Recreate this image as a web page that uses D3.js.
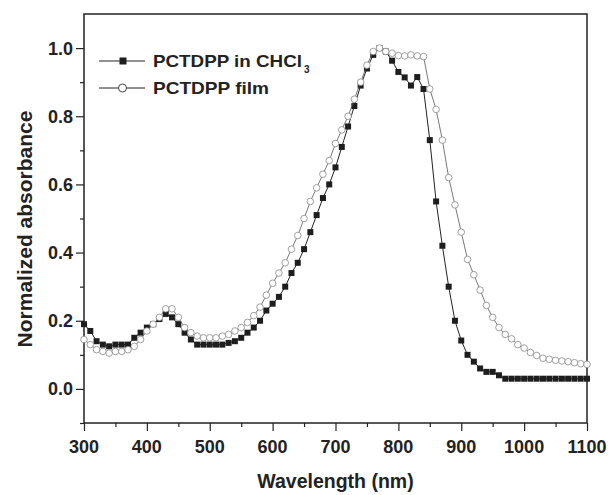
<!DOCTYPE html>
<html lang="en">
<head>
    <meta charset="UTF-8">
    <title>Normalized absorbance of PCTDPP</title>
    <script src="https://d3js.org/d3.v7.min.js"></script>
    <style>
        body { margin: 0; background: #fff; }
        svg { font-family: "Liberation Sans", Arial, sans-serif; }
        .tick-label { font-size: 18px; font-weight: bold; fill: #222; }
        .axis-title { font-weight: bold; fill: #222; }
        .legend { font-size: 17px; font-weight: bold; fill: #222; }
    </style>
</head>
<body>
    <svg width="611" height="495"></svg>

    <script>
        // Wavelength (nm) of each sample
        const wavelengths = [
            300, 310, 320, 330, 340, 350, 360, 370, 380, 390,
            400, 410, 420, 430, 440, 450, 460, 470, 480, 490,
            500, 510, 520, 530, 540, 550, 560, 570, 580, 590,
            600, 610, 620, 630, 640, 650, 660, 670, 680, 690,
            700, 710, 720, 730, 740, 750, 760, 770, 780, 790,
            800, 810, 820, 830, 840, 850, 860, 870, 880, 890,
            900, 910, 920, 930, 940, 950, 960, 970, 980, 990,
            1000, 1010, 1020, 1030, 1040, 1050, 1060, 1070, 1080, 1090,
            1100
        ];

        // PCTDPP in CHCl3 (filled squares)
        const solution = [
            0.19, 0.17, 0.14, 0.13, 0.125, 0.13, 0.13, 0.13, 0.15, 0.165,
            0.18, 0.19, 0.205, 0.22, 0.21, 0.19, 0.165, 0.145, 0.13, 0.13,
            0.13, 0.13, 0.13, 0.135, 0.14, 0.15, 0.165, 0.18, 0.20, 0.23,
            0.25, 0.27, 0.30, 0.34, 0.37, 0.41, 0.46, 0.51, 0.56, 0.60,
            0.65, 0.71, 0.77, 0.83, 0.89, 0.94, 0.98, 1.0, 0.99, 0.963,
            0.93, 0.914, 0.89, 0.915, 0.88, 0.73, 0.55, 0.42, 0.30, 0.20,
            0.142, 0.10, 0.08, 0.06, 0.05, 0.05, 0.04, 0.03, 0.03, 0.03,
            0.03, 0.03, 0.03, 0.03, 0.03, 0.03, 0.03, 0.03, 0.03, 0.03,
            0.03
        ];

        // PCTDPP film (open circles)
        const film = [
            0.145, 0.13, 0.115, 0.11, 0.105, 0.11, 0.11, 0.115, 0.125, 0.145,
            0.17, 0.19, 0.21, 0.235, 0.235, 0.21, 0.18, 0.165, 0.155, 0.15,
            0.15, 0.15, 0.155, 0.16, 0.17, 0.18, 0.195, 0.215, 0.24, 0.275,
            0.31, 0.34, 0.37, 0.41, 0.45, 0.50, 0.55, 0.59, 0.63, 0.67,
            0.72, 0.76, 0.80, 0.85, 0.90, 0.95, 0.99, 1.0, 0.99, 0.985,
            0.978, 0.977, 0.98, 0.977, 0.975, 0.88, 0.82, 0.73, 0.62, 0.54,
            0.46, 0.38, 0.335, 0.29, 0.245, 0.21, 0.18, 0.16, 0.147, 0.13,
            0.12, 0.107, 0.098, 0.09, 0.087, 0.084, 0.082, 0.08, 0.077, 0.074,
            0.072
        ];

        const xTicks = [300, 400, 500, 600, 700, 800, 900, 1000, 1100];
        const xMinor = [350, 450, 550, 650, 750, 850, 950, 1050];
        const yTicks = [0.0, 0.2, 0.4, 0.6, 0.8, 1.0];
        const yMinor = [-0.1, 0.1, 0.3, 0.5, 0.7, 0.9];

        const legendLabels = ["PCTDPP in CHCl", "PCTDPP film"];

        const svg = d3.select("svg");
        const plotLeft = 84, plotRight = 587, plotTop = 14, plotBottom = 423;

        const x = d3.scaleLinear().domain([300, 1100]).range([plotLeft, plotRight]);
        const y = d3.scaleLinear().domain([-0.1, 1.1]).range([plotBottom, plotTop]);

        // Frame
        svg.append("rect")
            .attr("x", plotLeft).attr("y", plotTop)
            .attr("width", plotRight - plotLeft).attr("height", plotBottom - plotTop)
            .attr("fill", "none").attr("stroke", "#222").attr("stroke-width", 1.5);

        // Bottom axis
        const xAxis = svg.append("g").attr("transform", `translate(0,${plotBottom})`);
        xAxis.call(d3.axisBottom(x).tickValues(xTicks).tickSize(8).tickFormat(""));
        xAxis.append("g").call(d3.axisBottom(x).tickValues(xMinor).tickSize(4).tickFormat(""));
        xAxis.selectAll(".domain").remove();
        xAxis.selectAll("line").attr("stroke", "#222").attr("stroke-width", 1.2);

        svg.selectAll(".x-label")
            .data(xTicks)
            .enter().append("text")
            .attr("class", "tick-label")
            .attr("x", d => x(d))
            .attr("y", 453)
            .attr("text-anchor", "middle")
            .text(d => d);

        // Left axis
        const yAxis = svg.append("g").attr("transform", `translate(${plotLeft},0)`);
        yAxis.call(d3.axisLeft(y).tickValues(yTicks).tickSize(8).tickFormat(""));
        yAxis.append("g").call(d3.axisLeft(y).tickValues(yMinor).tickSize(4).tickFormat(""));
        yAxis.selectAll(".domain").remove();
        yAxis.selectAll("line").attr("stroke", "#222").attr("stroke-width", 1.2);

        svg.selectAll(".y-label")
            .data(yTicks)
            .enter().append("text")
            .attr("class", "tick-label")
            .attr("x", 73)
            .attr("y", d => y(d))
            .attr("dy", "0.36em")
            .attr("text-anchor", "end")
            .text(d => d.toFixed(1));

        // Axis titles
        svg.append("text")
            .attr("class", "axis-title")
            .attr("x", (plotLeft + plotRight) / 2)
            .attr("y", 488)
            .attr("text-anchor", "middle")
            .style("font-size", "19.5px")
            .text("Wavelength (nm)");

        svg.append("text")
            .attr("class", "axis-title")
            .attr("transform", "translate(32,229) rotate(-90)")
            .attr("text-anchor", "middle")
            .style("font-size", "21px")
            .text("Normalized absorbance");

        const data = wavelengths.map((w, i) => ({ w: w, s: solution[i], f: film[i] }));

        // Solution curve
        svg.append("path")
            .datum(data)
            .attr("fill", "none")
            .attr("stroke", "#222")
            .attr("stroke-width", 1)
            .attr("d", d3.line().x(d => x(d.w)).y(d => y(d.s)));

        svg.selectAll(".sq")
            .data(data)
            .enter().append("rect")
            .attr("x", d => x(d.w) - 3)
            .attr("y", d => y(d.s) - 3)
            .attr("width", 6).attr("height", 6)
            .attr("fill", "#1e1e1e");

        // Film curve
        svg.append("path")
            .datum(data)
            .attr("fill", "none")
            .attr("stroke", "#555")
            .attr("stroke-width", 0.8)
            .attr("d", d3.line().x(d => x(d.w)).y(d => y(d.f)));

        svg.selectAll(".ci")
            .data(data)
            .enter().append("circle")
            .attr("cx", d => x(d.w))
            .attr("cy", d => y(d.f))
            .attr("r", 3.3)
            .attr("fill", "#fff")
            .attr("stroke", "#888")
            .attr("stroke-width", 0.8);

        // Legend
        const legendY = [61, 88];
        const legendWidths = [149, 116];
        legendY.forEach((ly, i) => {
            svg.append("line")
                .attr("x1", 99).attr("x2", 145)
                .attr("y1", ly).attr("y2", ly)
                .attr("stroke", "#222").attr("stroke-width", 1);
            if (i === 0) {
                svg.append("rect")
                    .attr("x", 119.5).attr("y", ly - 3.5)
                    .attr("width", 7).attr("height", 7)
                    .attr("fill", "#1e1e1e");
            } else {
                svg.append("circle")
                    .attr("cx", 122.5).attr("cy", ly)
                    .attr("r", 4)
                    .attr("fill", "#fff").attr("stroke", "#444").attr("stroke-width", 1);
            }
            svg.append("text")
                .attr("class", "legend")
                .attr("x", 153)
                .attr("y", ly + 6)
                .attr("textLength", legendWidths[i])
                .attr("lengthAdjust", "spacingAndGlyphs")
                .text(legendLabels[i]);
            if (i === 0) {
                svg.append("text")
                    .attr("class", "legend")
                    .attr("x", 304)
                    .attr("y", ly + 12)
                    .style("font-size", "10px")
                    .text("3");
            }
        });
    </script>
</body>
</html>
